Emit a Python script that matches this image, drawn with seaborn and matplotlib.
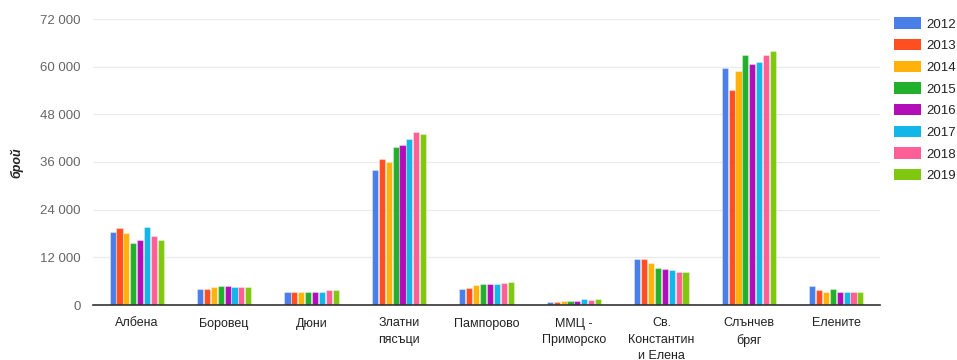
import matplotlib
matplotlib.use("Agg")
import matplotlib.pyplot as plt
import matplotlib.ticker as mticker
from matplotlib.patches import Patch
import seaborn as sns
import pandas as pd

resorts = ["Албена", "Боровец", "Дюни", "Златни\nпясъци", "Пампорово",
           "ММЦ -\nПриморско", "Св.\nКонстантин\nи Елена", "Слънчев\nбряг", "Елените"]
years = ["2012", "2013", "2014", "2015", "2016", "2017", "2018", "2019"]

v2012 = [18500, 3950, 3300, 34000, 4000, 760, 11500, 59600, 4700]
v2013 = [19400, 3950, 3300, 36800, 4300, 760, 11500, 54100, 3800]
v2014 = [18100, 4450, 3300, 36000, 4950, 1000, 10600, 59000, 3300]
v2015 = [15700, 4700, 3300, 39800, 5200, 1000, 9400, 63000, 4000]
v2016 = [16400, 4700, 3300, 40300, 5200, 1000, 9000, 60700, 3300]
v2017 = [19700, 4450, 3300, 41900, 5200, 1500, 8700, 61300, 3300]
v2018 = [17400, 4450, 3800, 43600, 5450, 1250, 8300, 63000, 3300]
v2019 = [16400, 4450, 3800, 43100, 5900, 1500, 8300, 63900, 3300]

palette = ["#4a7ee8", "#ff4f20", "#ffb20a", "#22b02c", "#b20db8",
           "#12b6e8", "#ff5f95", "#80c80f"]

series = [v2012, v2013, v2014, v2015, v2016, v2017, v2018, v2019]
rows = []
for y, vals in zip(years, series):
    for r, v in zip(resorts, vals):
        rows.append({"resort": r, "year": y, "count": v})
df = pd.DataFrame(rows)

sns.set_theme(style="white")
plt.rcParams["font.family"] = ["Liberation Sans", "DejaVu Sans"]

fig = plt.figure(figsize=(9.57, 3.6), dpi=100)
ax = fig.add_axes([93 / 957, 1 - 305 / 360, (880 - 93) / 957, (305 - 19) / 360])

sns.barplot(data=df, x="resort", y="count", hue="year", order=resorts,
            hue_order=years, palette=palette, width=0.63, gap=0.1,
            saturation=1, ax=ax, legend=False,
            edgecolor=(1, 1, 1, 0.35), linewidth=0.8)

ax.set_ylim(0, 72000)
ax.set_xlim(-0.5, len(resorts) - 0.5)
ax.yaxis.set_major_locator(mticker.MultipleLocator(12000))
ax.yaxis.set_major_formatter(mticker.FuncFormatter(
    lambda v, p: f"{int(v):,}".replace(",", " ")))
ax.grid(axis="y", color="#ebebeb", linewidth=1)
ax.set_axisbelow(True)
for s in ["top", "right", "left"]:
    ax.spines[s].set_visible(False)
ax.spines["bottom"].set_color("#333333")
ax.spines["bottom"].set_linewidth(1.2)

ax.tick_params(axis="y", length=0, pad=9, labelsize=9.5, labelcolor="#666666")
ax.tick_params(axis="x", length=0, pad=9, labelsize=9, labelcolor="#222222")
for lbl in ax.get_xticklabels():
    lbl.set_linespacing(1.45)
ax.set_xlabel("")
ax.set_ylabel("")
fig.text(17 / 957, 1 - 163 / 360, "брой", rotation=90, ha="center", va="center",
         fontsize=9, fontweight="bold", fontstyle="italic", color="#222222")

handles = [Patch(facecolor=c, edgecolor="none") for c in palette]
fig.legend(handles, years, loc="upper left",
           bbox_to_anchor=(889 / 957, 1 - 12 / 360), frameon=False,
           fontsize=9.5, labelcolor="#222222", handlelength=2.0,
           handleheight=0.95, handletextpad=0.45, labelspacing=0.64,
           borderaxespad=0)

fig.savefig("out.png", dpi=100)
